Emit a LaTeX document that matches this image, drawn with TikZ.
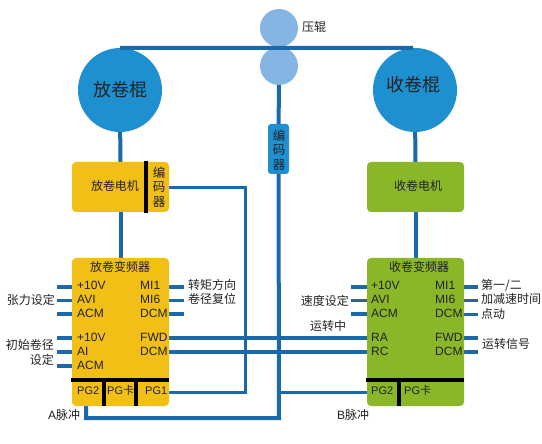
\documentclass[tikz,border=0pt]{standalone}
\usepackage{fontspec}
\setmainfont{Liberation Sans}
\newfontfamily\cjk{Noto Sans CJK SC}
\usetikzlibrary{backgrounds}
\definecolor{wire}{HTML}{1A6AAB}
\definecolor{rollblue}{HTML}{1E90D0}
\definecolor{nipblue}{HTML}{85B5E3}
\definecolor{amber}{HTML}{F2BF17}
\definecolor{leaf}{HTML}{8AB728}
\definecolor{ink}{HTML}{222222}
\tikzset{
  x=1pt,y=-1pt,
  wirethick/.style={draw=wire,line width=4pt},
  wirethin/.style={draw=wire,line width=3pt},
  sep/.style={draw=black,line width=3.5pt},
  roll/.style={circle,fill=rollblue,minimum size=84pt,inner sep=0pt},
  rolllab/.style={inner sep=0pt,text=ink,font=\cjk\fontsize{18}{18}\selectfont},
  nip/.style={circle,fill=nipblue,minimum size=38pt,inner sep=0pt},
  panel/.style={rounded corners=4pt,minimum width=97pt,inner sep=0pt,outer sep=0pt},
  enc/.style={rounded corners=3pt,fill=rollblue,minimum width=21pt,minimum height=50pt,inner sep=0pt},
  txt/.style={inner sep=0pt,text=ink,font=\fontsize{12}{12}\selectfont,text height=8.5pt,text depth=1.5pt},
  pgtxt/.style={txt,font=\fontsize{11}{11}\selectfont},
  lab/.style={txt,font=\cjk\fontsize{12}{12}\selectfont},
  stack/.style={inner sep=0pt,text=ink,align=center,font=\cjk\fontsize{12.5}{14.5}\selectfont},
}
\begin{document}
\begin{tikzpicture}
\useasboundingbox (0,0) rectangle (542,444);
% rollers
\node[roll] (unw) at (120,90) {};
\node[roll] (rew) at (415,90) {};
\node[rolllab] (unwlab) at (120,90) {放卷棍};
\node[rolllab] (rewlab) at (413,85) {收卷棍};
\node[nip] (nipa) at (279,28) {};
\node[nip] (nipb) at (279,66) {};
\node[lab,anchor=west] (niplab) at (302,28) {压辊};
% motors
\node[panel,fill=amber,minimum height=50pt] (lmot) at (120.5,187) {};
\node[panel,fill=leaf,minimum height=50pt] (rmot) at (415.5,187) {};
\node[lab] (lmotlab) at (115,187) {放卷电机};
\node[lab] (rmotlab) at (418,187) {收卷电机};
\node[stack] (lenc) at (159,187) {编\\码\\器};
\node[enc] (cenc) at (278.5,149) {};
\node[stack] (cenclab) at (279,150) {编\\码\\器};
% inverters
\node[panel,fill=amber,minimum height=148pt] (linv) at (120.5,332) {};
\node[panel,fill=leaf,minimum height=148pt] (rinv) at (415.5,332) {};
\node[lab] (ltitle) at (120,268) {放卷变频器};
\node[lab] (rtitle) at (419,268) {收卷变频器};
% left inverter pins
\foreach \n/\t/\y in {la1/+10V/286,la2/AVI/300,la3/ACM/314,la4/+10V/338,la5/AI/352,la6/ACM/366}
  \node[txt,anchor=west] (\n) at (77,\y) {\t};
\foreach \n/\t/\y in {lb1/MI1/286,lb2/MI6/300,lb3/DCM/314,lb4/FWD/338,lb5/DCM/352}
  \node[txt,anchor=west] (\n) at (140,\y) {\t};
\node[pgtxt,anchor=west] (lpg2) at (77,391) {PG2};
\node[pgtxt,anchor=west] (lpgk) at (107,391) {PG{\cjk 卡}};
\node[pgtxt,anchor=west] (lpg1) at (145,391) {PG1};
% right inverter pins
\foreach \n/\t/\y in {ra1/+10V/286,ra2/AVI/300,ra3/ACM/314,ra4/RA/338,ra5/RC/352}
  \node[txt,anchor=west] (\n) at (371,\y) {\t};
\foreach \n/\t/\y in {rb1/MI1/286,rb2/MI6/300,rb3/DCM/314,rb4/FWD/338,rb5/DCM/352}
  \node[txt,anchor=west] (\n) at (435,\y) {\t};
\node[pgtxt,anchor=west] (rpg2) at (371,391) {PG2};
\node[pgtxt,anchor=west] (rpgk) at (404,391) {PG{\cjk 卡}};
% outer labels
\node[lab,anchor=east] (t1) at (55,301) {张力设定};
\node[lab,anchor=east] (t2) at (54,346) {初始卷径};
\node[lab,anchor=east] (t3) at (54,361) {设定};
\node[lab,anchor=west] (t4) at (188,286) {转矩方向};
\node[lab,anchor=west] (t5) at (188,300) {卷径复位};
\node[txt,anchor=west] (t6) at (48,416) {A{\cjk 脉冲}};
\node[lab,anchor=east] (t7) at (349,302) {速度设定};
\node[lab,anchor=west] (t8) at (310,327) {运转中};
\node[lab,anchor=west] (t9) at (481,286) {第一/二};
\node[lab,anchor=west] (t10) at (481,300) {加减速时间};
\node[lab,anchor=west] (t11) at (481,315) {点动};
\node[lab,anchor=west] (t12) at (482,345) {运转信号};
\node[txt,anchor=west] (t13) at (337,416) {B{\cjk 脉冲}};
% free ends
\coordinate (lx) at (57,0);
\coordinate (lr) at (184,0);
\coordinate (rx) at (351,0);
\coordinate (rr) at (478,0);
\coordinate (webend) at (413,48);
\coordinate (encturn) at (245,188);
\coordinate (pgturn) at (245,392);
\coordinate (aturn) at (86,418);
\coordinate (bturn) at (279,418);
\begin{scope}[on background layer]
  \draw[wirethick] (unw) -- (lmot);
  \draw[wirethick] (lmot) -- (linv);
  \draw[wirethick] (rew) -- (rmot);
  \draw[wirethick] (rmot) -- (rinv);
  \draw[wirethick] (nipb) -- (cenc);
  \draw[wirethick] (cenc) -- (bturn) -- (aturn) -- (aturn |- linv.south);
  \draw[wirethin] (lmot.east |- encturn) -- (encturn) -- (pgturn) -- (linv.east |- pgturn);
  \draw[wirethin] (bturn |- pgturn) -- (rinv.west |- pgturn);
  % stubs, left inverter
  \foreach \y/\k in {287/wirethick,300/wirethin,314/wirethick,338/wirethick,352/wirethick,366/wirethick}
    \draw[\k] (linv.west |- 0,\y) -- (lx |- 0,\y);
  \foreach \y/\k in {287/wirethick,300/wirethin,314/wirethick}
    \draw[\k] (linv.east |- 0,\y) -- (lr |- 0,\y);
  % stubs, right inverter
  \foreach \y/\k in {287/wirethick,300/wirethin,314/wirethick}
    \draw[\k] (rinv.west |- 0,\y) -- (rx |- 0,\y);
  \foreach \y/\k in {287/wirethick,300/wirethin,314/wirethin,338/wirethick,352/wirethick}
    \draw[\k] (rinv.east |- 0,\y) -- (rr |- 0,\y);
  % long links
  \draw[wirethick] (linv.east |- 0,338) -- (rinv.west |- 0,338);
  \draw[wirethick] (linv.east |- 0,352) -- (rinv.west |- 0,352);
\end{scope}
% top web
\draw[wirethick] (unw.north) -- (webend);
% separators
\draw[sep] (146,161) -- (146,213);
\draw[sep] (71,380) -- (169,380);
\draw[sep] (104,380) -- (104,406);
\draw[sep] (136,380) -- (136,406);
\draw[sep] (366,380) -- (464,380);
\draw[sep] (399,380) -- (399,406);
\end{tikzpicture}
\end{document}
